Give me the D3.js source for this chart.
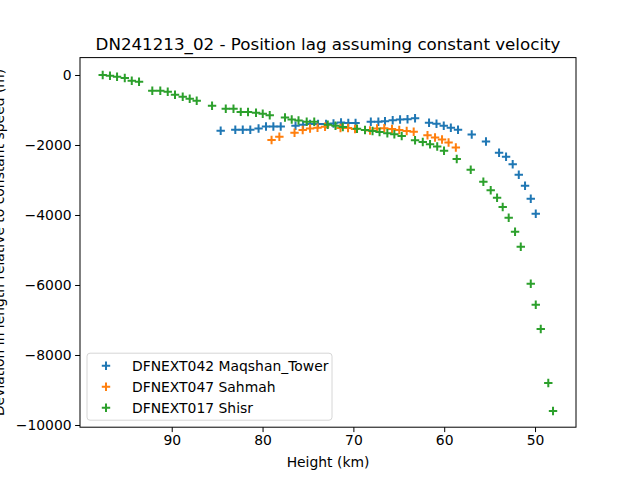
<!DOCTYPE html>
<html>
<head>
<meta charset="utf-8">
<script src="https://cdn.jsdelivr.net/npm/d3@7"></script>
<style>
    body { margin: 0; background: #fff; }
    text { font-family: "DejaVu Sans", sans-serif; fill: #000; }
</style>
</head>
<body>
<svg id="chart" width="640" height="480"></svg>
<script>
// Maqshan_Tower (blue)
const maqshanHeight = [84.61, 83.00, 82.18, 81.35, 80.44, 79.62, 78.81, 78.00, 76.37, 75.54,
    74.77, 73.89, 73.01, 72.19, 71.36, 70.56, 69.76, 68.08, 67.25, 66.52,
    65.67, 64.86, 64.04, 63.21, 61.67, 60.85, 60.05, 59.27, 58.48, 56.97,
    55.40, 53.96, 53.19, 52.46, 51.79, 51.10, 50.47, 49.92];
const maqshanLag = [-1594, -1566, -1563, -1566, -1529, -1471, -1471, -1471, -1449, -1423,
    -1400, -1400, -1400, -1386, -1357, -1371, -1371, -1334, -1334, -1320,
    -1294, -1271, -1263, -1237, -1366, -1394, -1449, -1506, -1566, -1700,
    -1900, -2220, -2334, -2551, -2849, -3163, -3534, -3963];

// Sahmah (orange)
const sahmahHeight = [79.01, 78.15, 76.48, 75.58, 74.77, 73.95, 73.12, 71.42, 70.59, 69.82,
    68.17, 67.40, 66.60, 65.75, 64.95, 64.13, 63.36, 61.84, 61.01, 60.24,
    59.52, 58.72];
const sahmahLag = [-1857, -1763, -1649, -1571, -1529, -1506, -1480, -1514, -1514, -1543,
    -1586, -1529, -1520, -1543, -1571, -1600, -1623, -1723, -1786, -1843,
    -1929, -2071];

// Shisr (green)
const shisrHeight = [97.60, 96.80, 96.02, 95.17, 94.40, 93.60, 92.14, 91.26, 90.44, 89.64,
    88.79, 88.02, 87.25, 85.56, 84.05, 83.20, 82.40, 81.60, 80.72, 79.98,
    79.21, 77.53, 76.79, 76.04, 75.14, 74.31, 72.82, 71.97, 71.16, 69.60,
    68.72, 67.89, 67.12, 66.26, 65.49, 64.68, 63.21, 62.36, 61.56, 60.77,
    60.02, 58.62, 57.08, 55.69, 54.88, 54.18, 53.56, 52.90, 52.20, 51.57,
    50.47, 49.92, 49.37, 48.54, 48.02];
const shisrLag = [0, -20, -49, -86, -163, -191, -449, -449, -477, -563,
    -620, -677, -734, -877, -963, -963, -1054, -1057, -1077, -1106,
    -1151, -1214, -1271, -1300, -1337, -1337, -1420, -1451, -1486, -1537,
    -1571, -1600, -1629, -1666, -1694, -1743, -1866, -1914, -1980, -2043,
    -2166, -2400, -2706, -3049, -3294, -3506, -3771, -4077, -4477, -4906,
    -5963, -6563, -7257, -8800, -9600];

const xTicks = [90, 80, 70, 60, 50];
const yTicks = [0, -2000, -4000, -6000, -8000, -10000];

const series = [
    { name: "DFNEXT042 Maqshan_Tower", color: "#1f77b4", x: maqshanHeight, y: maqshanLag },
    { name: "DFNEXT047 Sahmah", color: "#ff7f0e", x: sahmahHeight, y: sahmahLag },
    { name: "DFNEXT017 Shisr", color: "#2ca02c", x: shisrHeight, y: shisrLag }
];

const margin = { left: 80, right: 64, top: 57.6, bottom: 52.8 };
const width = 640 - margin.left - margin.right;
const height = 480 - margin.top - margin.bottom;

const svg = d3.select("#chart");
const g = svg.append("g")
    .attr("transform", "translate(" + margin.left + "," + margin.top + ")");

const x = d3.scaleLinear().domain([100.1, 45.49]).range([0, width]);
const y = d3.scaleLinear().domain([497, -10063]).range([0, height]);

const crossPath = "M-4.2,0H4.2M0,-4.2V4.2";

series.forEach(function(s) {
    g.append("g")
        .selectAll("path")
        .data(s.x.map(function(h, i) { return [h, s.y[i]]; }))
        .enter()
        .append("path")
        .attr("d", crossPath)
        .attr("transform", function(d) {
            return "translate(" + x(d[0]) + "," + y(d[1]) + ")";
        })
        .attr("stroke", s.color)
        .attr("stroke-width", 2)
        .attr("fill", "none");
});

// axes
const xAxis = g.append("g")
    .attr("transform", "translate(0," + height + ")")
    .call(d3.axisBottom(x).tickValues(xTicks).tickSize(4.9).tickPadding(3.5));

const yAxis = g.append("g")
    .call(d3.axisLeft(y).tickValues(yTicks).tickSize(4.9).tickPadding(3.5)
        .tickFormat(function(d) { return d < 0 ? "\u2212" + Math.abs(d) : d; }));

[xAxis, yAxis].forEach(function(a) {
    a.select(".domain").remove();
    a.selectAll("line").attr("stroke", "#000").attr("stroke-width", 1);
    a.selectAll("text")
        .attr("font-family", "DejaVu Sans")
        .attr("font-size", 13.9)
        .attr("fill", "#000");
});

g.append("rect")
    .attr("x", 0)
    .attr("y", 0)
    .attr("width", width)
    .attr("height", height)
    .attr("fill", "none")
    .attr("stroke", "#000")
    .attr("stroke-width", 1);

// legend
const legend = g.append("g").attr("transform", "translate(7," + (height - 7 - 67) + ")");

legend.append("rect")
    .attr("width", 245)
    .attr("height", 67)
    .attr("rx", 3)
    .attr("fill", "#fff")
    .attr("fill-opacity", 0.8)
    .attr("stroke", "#d6d6d6")
    .attr("stroke-width", 1);

series.forEach(function(s, i) {
    const row = legend.append("g").attr("transform", "translate(0," + (12.5 + i * 21) + ")");

    row.append("path")
        .attr("d", crossPath)
        .attr("transform", "translate(19,0)")
        .attr("stroke", s.color)
        .attr("stroke-width", 2);

    row.append("text")
        .attr("x", 45)
        .attr("y", 5)
        .attr("font-size", 13.9)
        .text(s.name);
});

// titles
svg.append("text")
    .attr("x", margin.left + width / 2)
    .attr("y", 50)
    .attr("text-anchor", "middle")
    .attr("font-size", 16.7)
    .text("DN241213_02 - Position lag assuming constant velocity");

svg.append("text")
    .attr("x", margin.left + width / 2)
    .attr("y", 467)
    .attr("text-anchor", "middle")
    .attr("font-size", 13.9)
    .text("Height (km)");

svg.append("text")
    .attr("transform", "translate(4," + (margin.top + height / 2) + ") rotate(-90)")
    .attr("text-anchor", "middle")
    .attr("font-size", 13.9)
    .text("Deviation in length relative to constant speed (m)");
</script>
</body>
</html>
